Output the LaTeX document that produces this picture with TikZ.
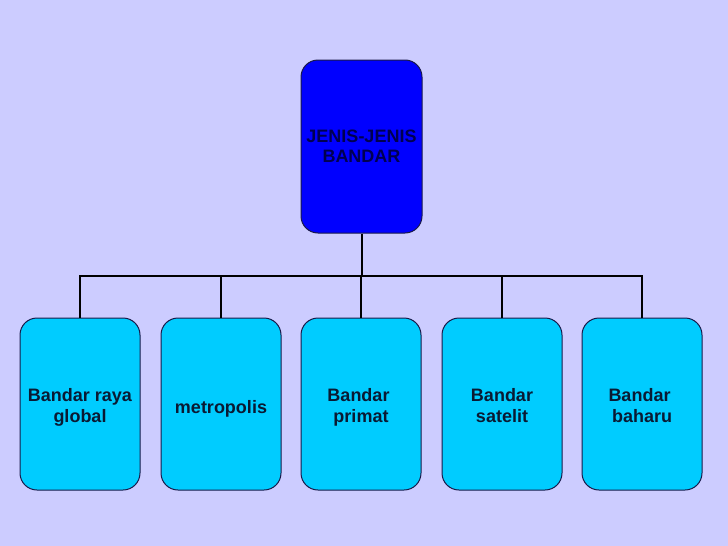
\documentclass[tikz,border=0pt]{standalone}
\usepackage{fontspec}
\setmainfont{Liberation Sans}
\definecolor{bg}{HTML}{CCCCFF}
\definecolor{topfill}{HTML}{0000FF}
\definecolor{boxfill}{HTML}{00CCFF}
\definecolor{edge}{HTML}{1A1A4A}
\definecolor{toptext}{HTML}{000050}
\definecolor{boxtext}{HTML}{0A1A33}
\newcommand{\lowtext}[2]{\raisebox{#1}[\height][\depth]{\begin{tabular}{@{}c@{}}#2\end{tabular}}}
\tikzset{
  topbox/.style={draw=edge, line width=1pt, fill=topfill, rounded corners=17pt,
    minimum width=121pt, minimum height=173pt, inner sep=0pt, align=center,
    text=toptext, font=\fontsize{18}{20.5}\selectfont\bfseries},
  catbox/.style={draw=edge, line width=1pt, fill=boxfill, rounded corners=17pt,
    minimum width=120pt, minimum height=172pt, inner sep=0pt, align=center,
    text=boxtext, font=\fontsize{18}{20.5}\selectfont\bfseries},
  link/.style={draw=black, line width=2pt}
}
\begin{document}
\begin{tikzpicture}[x=1pt,y=-1pt]
\fill[bg] (0,0) rectangle (728,546);
\useasboundingbox (0,0) rectangle (728,546);
\node[topbox] (top) at (361.5,146.5) {\lowtext{-2pt}{JENIS-JENIS\\BANDAR}};
\node[catbox] (b1) at (80,404) {\lowtext{-4pt}{Bandar raya\\global}};
\node[catbox] (b2) at (221,404) {\lowtext{-5pt}{metropolis}};
\node[catbox] (b3) at (361,404) {\lowtext{-4pt}{\hspace*{-5pt}Bandar\\primat}};
\node[catbox] (b4) at (502,404) {\lowtext{-4pt}{Bandar\\satelit}};
\node[catbox] (b5) at (642,404) {\lowtext{-4pt}{\hspace*{-5pt}Bandar\\baharu}};
\coordinate (j) at (361,276);
\draw[link] (top.south) -- (top.south |- j);
\draw[link] (b1.north) -- (b1.north |- j) -- (b5.north |- j) -- (b5.north);
\draw[link] (b2.north) -- (b2.north |- j);
\draw[link] (b3.north) -- (b3.north |- j);
\draw[link] (b4.north) -- (b4.north |- j);
\end{tikzpicture}
\end{document}
